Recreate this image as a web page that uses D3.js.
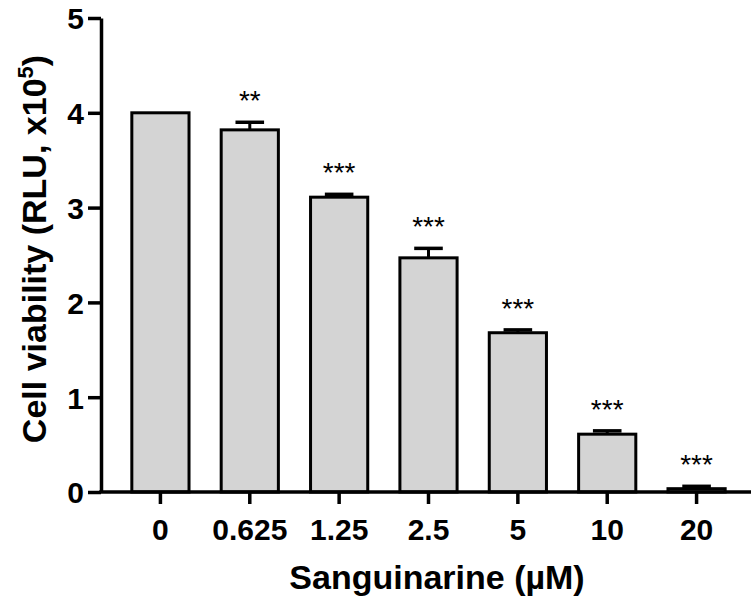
<!DOCTYPE html>
<html>
<head>
<meta charset="utf-8">
<script src="https://cdn.jsdelivr.net/npm/d3@7"></script>
<style>
  body { margin: 0; background: #fff; }
  svg { display: block; font-family: "Liberation Sans", Arial, sans-serif; }
  .axis path, .axis line { stroke: #000; stroke-width: 3.5; }
  .axis text { font-size: 30px; font-weight: bold; fill: #000; }
</style>
</head>
<body>
<div id="chart"></div>
<script>
// doses of sanguinarine (µM) and cell viability readings (RLU x10^5)
const doses = ["0", "0.625", "1.25", "2.5", "5", "10", "20"];
const viability = [4.0, 3.82, 3.11, 2.47, 1.68, 0.61, 0.035];
const sd = [0, 0.08, 0.03, 0.10, 0.03, 0.035, 0.025];
const stars = ["", "**", "***", "***", "***", "***", "***"];
const yTicks = [0, 1, 2, 3, 4, 5];

const width = 751;
const height = 599;

const svg = d3.select("#chart")
    .append("svg")
    .attr("width", width)
    .attr("height", height);

const xScale = d3.scaleBand()
    .domain(doses)
    .range([101, 756])
    .paddingInner(0.36)
    .paddingOuter(0.345);

const yScale = d3.scaleLinear()
    .domain([0, 5])
    .range([492, 18]);

const data = doses.map(function(d, i) {
    return {dose: d, value: viability[i], sd: sd[i], star: stars[i]};
});

// bars
svg.selectAll("rect.bar")
    .data(data)
    .enter()
    .append("rect")
    .attr("class", "bar")
    .attr("x", function(d) { return xScale(d.dose); })
    .attr("y", function(d) { return yScale(d.value); })
    .attr("width", xScale.bandwidth())
    .attr("height", function(d) { return yScale(0) - yScale(d.value); })
    .attr("fill", "#d4d4d4")
    .attr("stroke", "#000")
    .attr("stroke-width", 3);

// error bars (upper only)
const cx = function(d) { return xScale(d.dose) + xScale.bandwidth() / 2; };
const capW = xScale.bandwidth() / 2;

const err = svg.selectAll("g.err")
    .data(data.filter(function(d) { return d.sd > 0; }))
    .enter()
    .append("g")
    .attr("class", "err");

err.append("line")
    .attr("x1", cx)
    .attr("x2", cx)
    .attr("y1", function(d) { return yScale(d.value); })
    .attr("y2", function(d) { return yScale(d.value + d.sd); })
    .attr("stroke", "#000")
    .attr("stroke-width", 3);

err.append("line")
    .attr("x1", function(d) { return cx(d) - capW / 2; })
    .attr("x2", function(d) { return cx(d) + capW / 2; })
    .attr("y1", function(d) { return yScale(d.value + d.sd); })
    .attr("y2", function(d) { return yScale(d.value + d.sd); })
    .attr("stroke", "#000")
    .attr("stroke-width", 3.5);

// significance stars
svg.selectAll("text.star")
    .data(data)
    .enter()
    .append("text")
    .attr("class", "star")
    .attr("x", cx)
    .attr("y", function(d) { return yScale(d.value + d.sd) - 12; })
    .attr("text-anchor", "middle")
    .attr("font-size", 28)
    .attr("fill", "#000")
    .text(function(d) { return d.star; });

// axes
const xAxis = svg.append("g")
    .attr("class", "axis")
    .attr("transform", `translate(0,${yScale(0)})`)
    .call(d3.axisBottom(xScale).tickSizeInner(12).tickSizeOuter(0).tickPadding(15));

const yAxis = svg.append("g")
    .attr("class", "axis")
    .attr("transform", `translate(101,0)`)
    .call(d3.axisLeft(yScale).tickValues(yTicks).tickFormat(d3.format("d"))
        .tickSizeInner(13).tickSizeOuter(0).tickPadding(4));

yAxis.selectAll("text").attr("dy", "0.36em");
xAxis.select(".domain").attr("d", `M${99.25},0H${width}`);

// axis titles
svg.append("text")
    .attr("x", 437)
    .attr("y", 589)
    .attr("text-anchor", "middle")
    .attr("font-size", 34)
    .attr("font-weight", "bold")
    .text("Sanguinarine (µM)");

const yLabel = svg.append("text")
    .attr("transform", "translate(46,249) rotate(-90)")
    .attr("text-anchor", "middle")
    .attr("font-size", 34)
    .attr("font-weight", "bold");

yLabel.append("tspan").text("Cell viability (RLU, x10");
yLabel.append("tspan").attr("font-size", 22).attr("dy", -13).text("5");
yLabel.append("tspan").attr("dy", 13).text(")");
</script>
</body>
</html>
